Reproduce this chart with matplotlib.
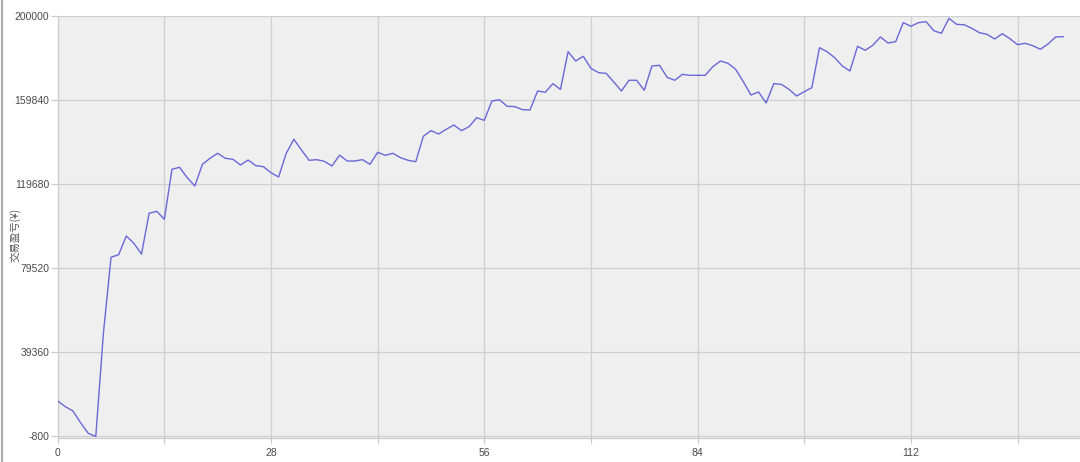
import numpy as np
import matplotlib
matplotlib.use('Agg')
import matplotlib.pyplot as plt
from matplotlib.lines import Line2D

# 交易盈亏序列
profit = [
    16160, 13440, 11400, 5800, 750, -800, 48500, 84770, 86030, 94950,
    91460, 86300, 105800, 106740, 102920, 126800, 127750, 122800, 118830, 129190,
    132050, 134440, 132050, 131570, 128850, 131240, 128520, 128040, 125180, 123120,
    134440, 141120, 136000, 131080, 131400, 130620, 128380, 133550, 130760, 130760,
    131400, 129190, 134910, 133480, 134440, 132340, 131080, 130440, 142550, 145260,
    143650, 145890, 147950, 145260, 147140, 151440, 150180, 159410, 160000, 156880,
    156720, 155290, 155130, 164190, 163570, 167680, 164970, 182950, 178510, 180740,
    175000, 172940, 172620, 168480, 164190, 169300, 169300, 164510, 176130, 176450,
    170720, 169300, 172140, 171670, 171670, 171670, 175800, 178510, 177400, 174540,
    168640, 162280, 163710, 158460, 167680, 167360, 164970, 161800, 163860, 165770,
    184860, 182950, 180080, 176130, 173740, 185530, 183620, 186000, 189970, 187110,
    187750, 196820, 195080, 196820, 197300, 193000, 191730, 198880, 196020, 195800,
    194110, 192030, 191260, 189020, 191550, 189170, 186300, 186960, 185820, 184100,
    186630, 189970, 190120,
]
x = np.arange(len(profit))

y_ticks = [-800, 39360, 79520, 119680, 159840, 200000]
x_major = [0, 28, 56, 84, 112]
x_minor = [14, 42, 70, 98, 126]

plt.rcParams['font.family'] = ['Liberation Sans', 'DejaVu Sans']
plt.rcParams['axes.unicode_minus'] = False

fig = plt.figure(figsize=(10.8, 4.62), dpi=100)
ax = fig.add_axes([57.7 / 1080, 1 - 438 / 462, 1 - 57.7 / 1080, (438 - 16) / 462])
ax.set_facecolor('#efefef')

ax.plot(x, profit, color='#6868d8', linewidth=1.0, zorder=3)

ax.set_xlim(0, 134.2)
ax.set_ylim(-1520, 200000)

ax.set_yticks(y_ticks)
ax.set_xticks(x_major)
ax.set_xticks(x_minor, minor=True)
ax.grid(True, which='both', color='#cfcfcf', linewidth=0.9, zorder=1)

ax.tick_params(axis='both', which='both', colors='#cccccc', labelcolor='#4a4a4a',
               labelsize=7.5, width=0.9)
ax.tick_params(axis='y', length=5, pad=1)
ax.tick_params(axis='x', which='both', length=4, pad=3)

for side in ['top', 'right']:
    ax.spines[side].set_visible(False)
for side in ['left', 'bottom']:
    ax.spines[side].set_color('#cccccc')
    ax.spines[side].set_linewidth(0.9)

fig.text(15 / 1080, 1 - 235 / 462, '交易盈亏(¥)', rotation=90, ha='center', va='center',
         fontsize=7.5, color='#555555', family=['Noto Sans CJK SC', 'DejaVu Sans'])

# 左侧灰色边框
fig.add_artist(Line2D([2 / 1080, 2 / 1080], [0, 1], color='#aaaaaa', linewidth=1.5,
                      transform=fig.transFigure))

fig.savefig('out.png', dpi=100)
